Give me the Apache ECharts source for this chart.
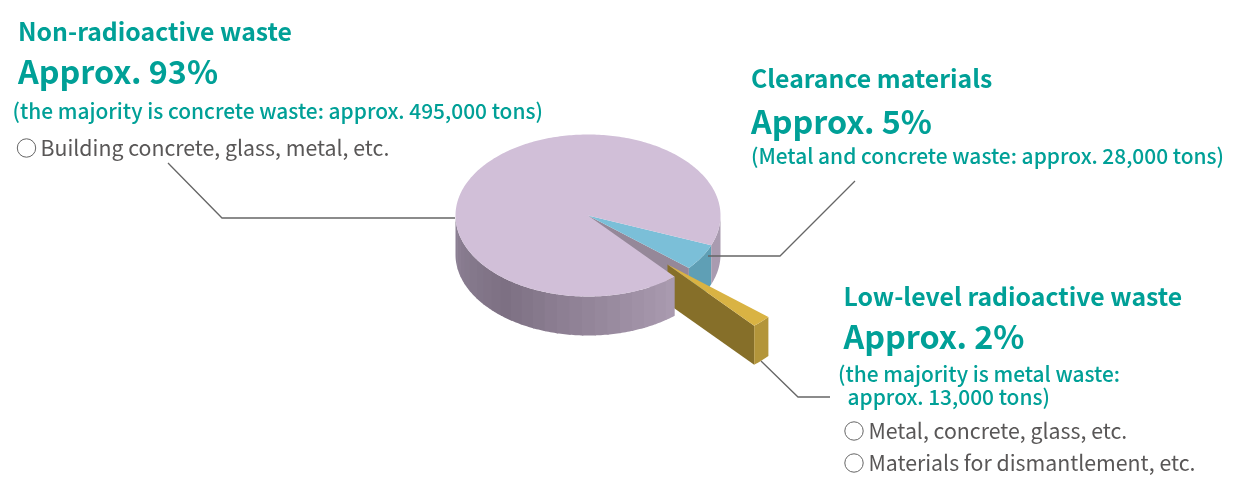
<!DOCTYPE html>
<html>
<head>
<meta charset="utf-8">
<style>html,body{margin:0;padding:0;background:#fff}#c{width:1240px;height:485px}</style>
<script src="https://cdn.jsdelivr.net/npm/echarts@6/dist/echarts.min.js"></script>
</head>
<body>
<div id="c"></div>
<script>
// ---- data ----
const sliceNames = ['Clearance materials', 'Low-level radioactive waste', 'Non-radioactive waste'];
const sliceTons = [28000, 13000, 495000];
const percentLabels = ['Approx. 5%', 'Approx. 2%', 'Approx. 93%'];
const detailLabels = [
  '(Metal and concrete waste: approx. 28,000 tons)',
  '(the majority is metal waste:',
  'approx. 13,000 tons)',
  '(the majority is concrete waste: approx. 495,000 tons)'
];
const itemLabels = ['Building concrete, glass, metal, etc.', 'Metal, concrete, glass, etc.', 'Materials for dismantlement, etc.'];

// ---- layout ----
const FONT = '"Noto Sans CJK JP","Noto Sans",sans-serif';
const TEAL = '#00a097', GREY = '#595757';
const CX = 588, CY = 215.5, RX = 132.5, RY = 81, DEPTH = 39;
const START = 21.6;                 // first slice start, degrees clockwise from 3 o'clock
const EXPLODE = [79.5, 49];         // offset of the pulled-out wedge
const BAND = 5.5;

const total = sliceTons.reduce((a, b) => a + b, 0);
const spans = sliceTons.map(v => v / total * 360);
const starts = [START, START + spans[0], START + spans[0] + spans[1]];

const pt = (deg, ox = 0, oy = 0) => {
  const r = deg * Math.PI / 180;
  return [CX + ox + RX * Math.cos(r), CY + oy + RY * Math.sin(r)];
};
const arc = (a, b, ox = 0, oy = 0) => {
  const n = Math.max(2, Math.ceil(Math.abs(b - a)));
  const out = [];
  for (let i = 0; i <= n; i++) out.push(pt(a + (b - a) * i / n, ox, oy));
  return out;
};
const poly = (points, fill) => ({
  type: 'polygon', shape: { points },
  style: { fill }
});
const wall = (a, b, fill, ox = 0, oy = 0) => {
  const top = arc(a, b, ox, oy);
  const bot = top.map(p => [p[0], p[1] + DEPTH]).reverse();
  return poly(top.concat(bot), fill);
};
const lerp = (c1, c2, t) => {
  const h = s => [1, 3, 5].map(i => parseInt(s.substr(i, 2), 16));
  const a = h(c1), b = h(c2);
  return 'rgb(' + a.map((v, i) => Math.round(v + (b[i] - v) * t)).join(',') + ')';
};
const shade = deg => {
  if (deg < 125) return lerp('#ab9cb1', '#7d7083', (deg - 45) / 80);
  return lerp('#7d7083', '#8f8397', Math.min(1, (deg - 125) / 55));
};

function renderSlice(params, api) {
  const i = api.value(0);
  const a = api.value(1), b = a + api.value(2);
  const ch = [];
  if (i === 0) {           // clearance: outer wall, cut face, top
    ch.push(wall(a, b, '#5f9fb5'));
    const e = pt(b);
    ch.push(poly([[CX, CY], e, [e[0], e[1] + DEPTH], [CX, CY + DEPTH]], '#958899'));
    ch.push(poly([[CX, CY]].concat(arc(a, b)), '#7bbfd8'));
  } else if (i === 1) {    // low-level: pulled-out wedge
    const [ox, oy] = EXPLODE;
    const e = pt(b, ox, oy);
    const t = [CX + ox, CY + oy];
    ch.push(poly([t, e, [e[0], e[1] + DEPTH], [t[0], t[1] + DEPTH]], '#866f29'));
    ch.push(wall(a, b, '#b3953a', ox, oy));
    ch.push(poly([t].concat(arc(a, b, ox, oy)), '#d9b343'));
  } else {                 // main slice: banded rim, top
    ch.push(wall(360, b, '#a99bb0'));
    for (let d = 180 - BAND; d > a - BAND; d -= BAND) {
      const from = Math.max(a, d);
      ch.push(wall(from, d + BAND + 0.6 > 180 ? 180 : d + BAND + 0.6, shade(from)));
    }
    ch.push(poly([[CX, CY]].concat(arc(a, b)), '#d1bfd8'));
  }
  return { type: 'group', children: ch };
}

const text = (x, base, t, size, fill, weight) => ({
  type: 'text', x, y: base - size * 0.88, silent: true, z: 10,
  style: { text: t, x: 0, y: 0, fill, font: `${weight} ${size}px ${FONT}`, verticalAlign: 'top', align: 'left' }
});
const leader = pts => ({
  type: 'polyline', silent: true, z: 10, shape: { points: pts },
  style: { stroke: '#666', lineWidth: 1.3, fill: null }
});
const ring = (x, y) => ({
  type: 'circle', silent: true, z: 10, shape: { cx: x, cy: y, r: 9.2 },
  style: { stroke: '#666', lineWidth: 1, fill: '#fff' }
});

const chart = echarts.init(document.getElementById('c'), null, { renderer: 'canvas' });
chart.setOption({
  animation: false,
  backgroundColor: '#fff',
  series: [{
    type: 'custom', coordinateSystem: 'none', silent: true, z: 2,
    renderItem: renderSlice,
    data: sliceNames.map((n, i) => ({ name: n, value: [i, starts[i], spans[i]] }))
  }],
  graphic: { elements: [
    leader([[168, 163], [222, 218], [455, 218]]),
    leader([[855, 181], [780, 256], [708, 256]]),
    leader([[761, 361], [798, 397], [830, 397]]),

    text(18, 41, sliceNames[2], 24.8, TEAL, 700),
    text(18, 84, percentLabels[2], 32.3, TEAL, 700),
    text(12.5, 119, detailLabels[3], 20.9, TEAL, 500),
    ring(26.5, 148),
    text(40.5, 156, itemLabels[0], 21.3, GREY, 400),

    text(751, 88, sliceNames[0], 24.8, TEAL, 700),
    text(751, 134, percentLabels[0], 32.3, TEAL, 700),
    text(751, 164, detailLabels[0], 20.9, TEAL, 500),

    text(843.5, 306, sliceNames[1], 24.8, TEAL, 700),
    text(843.5, 349, percentLabels[1], 32.3, TEAL, 700),
    text(838, 382, detailLabels[1], 20.9, TEAL, 500),
    text(847.5, 405, detailLabels[2], 20.9, TEAL, 500),
    ring(854, 431),
    text(868.5, 439, itemLabels[1], 21.3, GREY, 400),
    ring(854, 463),
    text(868.5, 471, itemLabels[2], 21.3, GREY, 400)
  ] }
});
</script>
</body>
</html>
